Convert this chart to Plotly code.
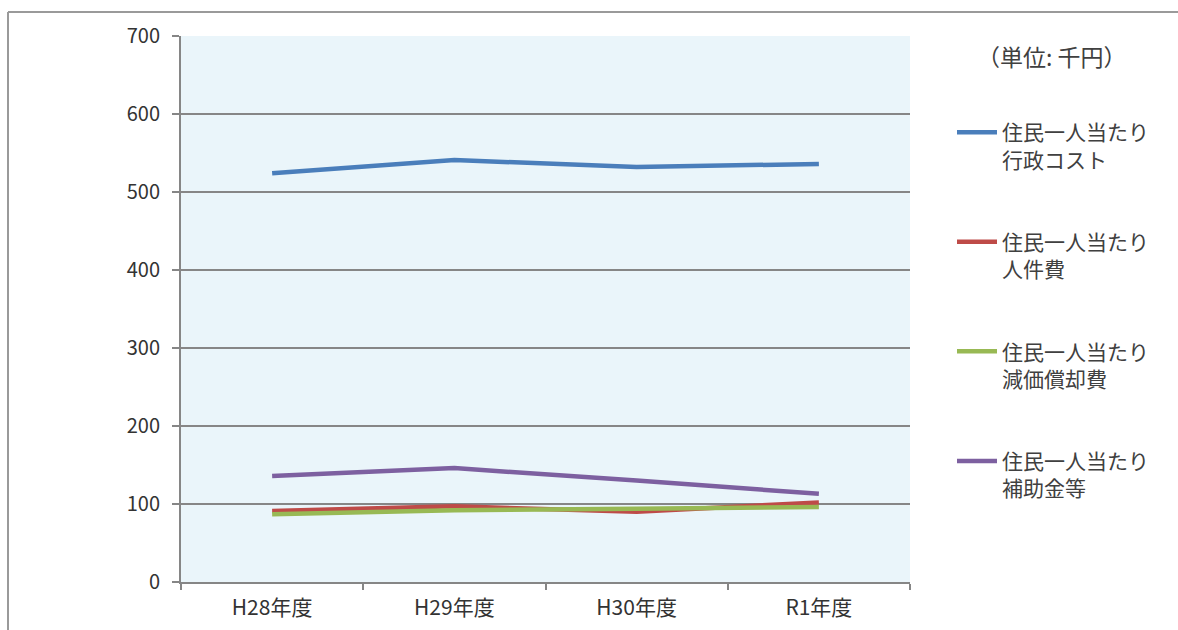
import plotly.graph_objects as go

categories = ["H28年度", "H29年度", "H30年度", "R1年度"]
admin_cost = [524, 541, 532, 536]
personnel = [91, 97, 90, 102]
depreciation = [87, 92, 94, 96]
subsidies = [136, 146, 130, 113]
series_names = [
    "住民一人当たり<br>行政コスト",
    "住民一人当たり<br>人件費",
    "住民一人当たり<br>減価償却費",
    "住民一人当たり<br>補助金等",
]
series_values = [admin_cost, personnel, depreciation, subsidies]
colors = ["#4A7EBB", "#BE4B48", "#98B954", "#7D60A0"]
y_ticks = [0, 100, 200, 300, 400, 500, 600, 700]

W, H = 1178, 630
L, R, T, B = 181, 910, 36, 582

fig = go.Figure()
for i, (name, vals, col) in enumerate(zip(series_names, series_values, colors)):
    fig.add_trace(go.Scatter(
        x=categories, y=vals, mode="lines", name=name,
        line=dict(color=col, width=4.5),
        legendgroup=f"g{i}",
    ))

font_family = "Noto Sans CJK JP, Noto Sans, sans-serif"

fig.update_layout(
    width=W, height=H,
    margin=dict(l=L, r=W - R, t=T, b=H - B, pad=0, autoexpand=False),
    paper_bgcolor="white",
    plot_bgcolor="#EAF5FA",
    font=dict(family=font_family, color="#333333", size=18),
    showlegend=True,
    legend=dict(
        x=(952 - L) / (R - L), y=(582 - 112) / (B - T),
        xanchor="left", yanchor="top",
        font=dict(size=21, color="#404040", family=font_family),
        tracegroupgap=52,
        valign="top",
        bgcolor="rgba(0,0,0,0)",
        itemwidth=40,
    ),
    xaxis=dict(
        type="category",
        tickson="boundaries",
        ticks="outside", ticklen=6, tickcolor="#868686", tickwidth=2,
        showline=True, linecolor="#868686", linewidth=2,
        showgrid=False,
        tickfont=dict(size=21, color="#333333"),
        ticklabelstandoff=6,
        range=[-0.5, 3.5],
        automargin=False,
    ),
    yaxis=dict(
        range=[0, 700], tickvals=y_ticks,
        ticks="outside", ticklen=7, tickcolor="#868686", tickwidth=2,
        showline=True, linecolor="#868686", linewidth=2,
        showgrid=True, gridcolor="#868686", gridwidth=1.5,
        zeroline=False,
        tickfont=dict(size=20, color="#333333"),
        ticklabelstandoff=8,
        automargin=False,
    ),
    annotations=[dict(
        text="（単位: 千円）", xref="paper", yref="paper",
        x=(1052 - L) / (R - L), y=(582 - 56) / (B - T),
        xanchor="center", yanchor="middle", showarrow=False,
        font=dict(size=23, color="#404040", family=font_family),
    )],
    shapes=[
        dict(type="line", xref="paper", yref="paper",
             x0=(8 - L) / (R - L), x1=(1180 - L) / (R - L),
             y0=(582 - 12) / (B - T), y1=(582 - 12) / (B - T),
             line=dict(color="#9a9a9a", width=2)),
        dict(type="line", xref="paper", yref="paper",
             x0=(8 - L) / (R - L), x1=(8 - L) / (R - L),
             y0=(582 - 12) / (B - T), y1=(582 - 640) / (B - T),
             line=dict(color="#9a9a9a", width=2)),
    ],
)

fig.write_html("out.html")
